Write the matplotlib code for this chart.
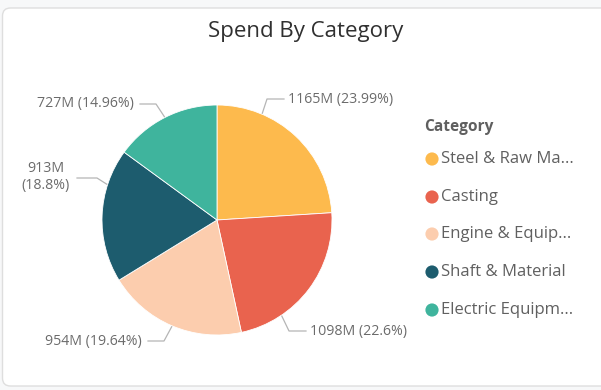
import numpy as np
import matplotlib
matplotlib.use('Agg')
import matplotlib.pyplot as plt
from matplotlib.patches import FancyBboxPatch

plt.rcParams['font.family'] = ['Open Sans', 'DejaVu Sans']

W, H = 601, 390

categories = ['Steel & Raw Ma...', 'Casting', 'Engine & Equip...', 'Shaft & Material', 'Electric Equipm...']
spend = [1165, 1098, 954, 913, 727]
share = [23.99, 22.6, 19.64, 18.8, 14.96]
colors = ['#FDBA4D', '#E9634E', '#FCCDAE', '#1D5C6E', '#3FB49D']

# label layout: angle where the leader leaves the pie, elbow, end of line, text anchor
leader_angle = [67, -56, -113, 162, 117]
leader_elbow = [(267, 99), (289, 331), (164, 341), (97, 178), (156, 104)]
leader_end = [(284, 99), (306, 331), (148, 341), (77, 178), (140, 104)]
text_pos = [(288, 100), (310, 331), (142, 341), (70, 177), (134, 104)]
text_ha = ['left', 'left', 'right', 'right', 'right']

CX, CY, R = 217, 220, 115


def fy(y):
    # pixel rows go down, data y goes up
    return H - y


def main():
    fig = plt.figure(figsize=(W / 100, H / 100), dpi=100)
    ax = fig.add_axes([0, 0, 1, 1])

    card = FancyBboxPatch((2.5, fy(386)), 640, 378, boxstyle='round,pad=0,rounding_size=8',
                          facecolor='white', edgecolor='#dedede', linewidth=1)
    ax.add_patch(card)

    ax.pie(share, colors=colors, startangle=90, counterclock=False,
           center=(CX, fy(CY)), radius=R,
           wedgeprops=dict(edgecolor='white', linewidth=0.6))

    for i, v in enumerate(spend):
        a = np.deg2rad(leader_angle[i])
        x0 = CX + (R + 1) * np.cos(a)
        y0 = fy(CY) + (R + 1) * np.sin(a)
        ex, ey = leader_elbow[i]
        nx, ny = leader_end[i]
        ax.plot([x0, ex, nx], [y0, fy(ey), fy(ny)], color='#b5b5b5', lw=0.9)

        pct_txt = ('%.2f' % share[i]).rstrip('0').rstrip('.')
        if i == 3:
            label = f'{v}M\n({pct_txt}%)'
        else:
            label = f'{v}M ({pct_txt}%)'
        tx, ty = text_pos[i]
        ax.text(tx, fy(ty), label, ha=text_ha[i], va='center', multialignment='center',
                fontsize=10.2, color='#6b6b6b', linespacing=1.1)

    ax.text(306, fy(32), 'Spend By Category', ha='center', va='center',
            fontsize=16, color='#303030')

    # legend
    ax.text(424, fy(127), 'Category', ha='left', va='center', fontsize=11.2,
            fontweight='bold', color='#5f5f5f')
    leg_y = [159, 197, 234, 272, 310]
    for i, name in enumerate(categories):
        ax.scatter([432], [fy(leg_y[i])], s=90, color=colors[i], edgecolors='none')
        ax.text(441, fy(leg_y[i]), name, ha='left', va='center', fontsize=12,
                color='#606060')

    ax.set_xlim(0, W)
    ax.set_ylim(0, H)
    ax.set_aspect('auto')
    ax.axis('off')
    fig.patch.set_facecolor('#f7f8f9')

    fig.savefig('out.png', dpi=100)


if __name__ == '__main__':
    main()
